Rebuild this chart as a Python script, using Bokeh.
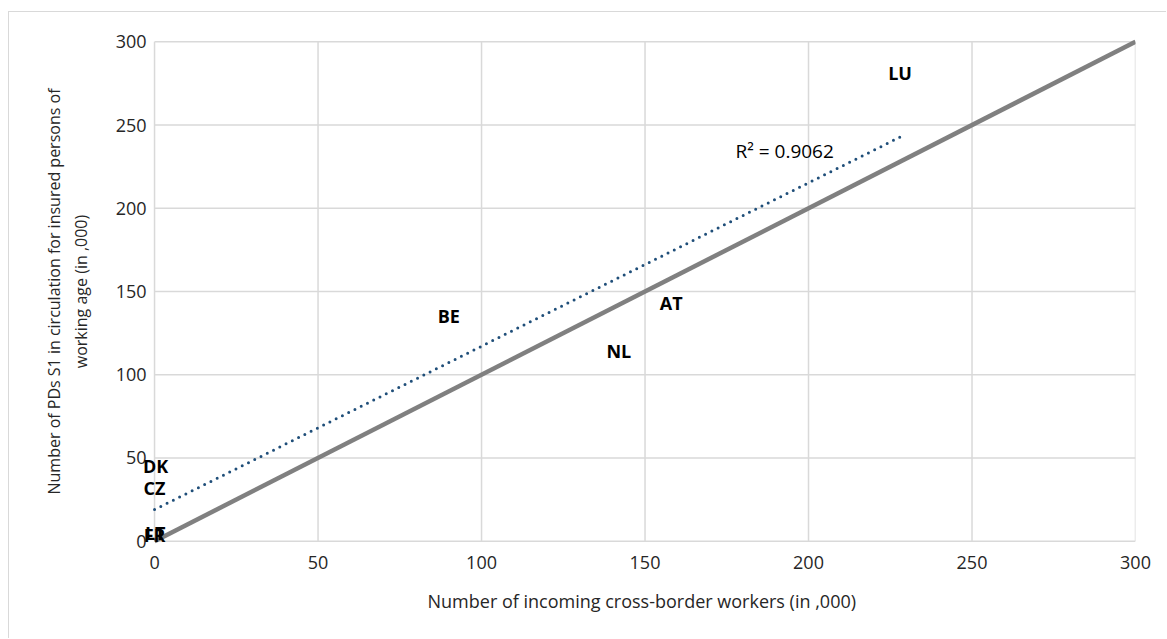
import numpy as np
from bokeh.plotting import figure
from bokeh.models import ColumnDataSource, FixedTicker, Label, Title
from bokeh.core.properties import value
from bokeh.embed import file_html
from bokeh.resources import INLINE

# Member states: incoming cross-border workers vs PDs S1 in circulation (thousands)
countries = ["LU", "AT", "NL", "BE", "DK", "CZ", "LT", "FR"]
workers = [228, 158, 142, 90, 0.3, 0, 0.2, 0]
pds_s1 = [281, 143, 114, 135, 45, 32, 5, 4]

r2_text = "R\u00b2 = 0.9062"
ticks = [0, 50, 100, 150, 200, 250, 300]
tick_labels = [str(t) for t in ticks]

FONT = "Open Sans"
TXT = "#262626"
GRID = "#d9d9d9"

# The frame reaches a little beyond the 0-300 square so that labels sitting
# on its edges are not cut off; the grid and y tick labels are drawn by hand.
X_PAD = 15
Y_PAD = 8
p = figure(width=1158, height=627,
           x_range=(-X_PAD, 300), y_range=(-Y_PAD, 300 + Y_PAD),
           output_backend="svg", toolbar_location=None,
           min_border_left=96, min_border_right=32,
           min_border_top=16, min_border_bottom=85)
p.margin = (11, 0, 0, 8)
p.styles = {"border-left": "1px solid #d9d9d9", "border-top": "1px solid #d9d9d9"}
p.outline_line_color = None
p.background_fill_color = "white"
p.border_fill_color = "white"
p.grid.visible = False

for ax in (p.xaxis, p.yaxis):
    ax.axis_line_color = None
    ax.major_tick_line_color = None
    ax.minor_tick_line_color = None
    ax.major_label_text_font = FONT
    ax.major_label_text_font_size = "18px"
    ax.major_label_text_color = TXT
    ax.axis_label_text_font = FONT
    ax.axis_label_text_font_style = "normal"
    ax.axis_label_text_color = TXT

p.xaxis.ticker = FixedTicker(ticks=ticks)
p.xaxis.major_label_standoff = -5

p.yaxis.ticker = FixedTicker(ticks=[])
p.yaxis.axis_label = "Number of PDs S1 in circulation for insured persons of\nworking age (in ,000)"
p.yaxis.axis_label_text_font_size = "16px"
p.yaxis.axis_label_standoff = 14

# X axis title, centred under the 0-300 data square
p.add_layout(Title(text="Number of incoming cross-border workers (in ,000)",
                   align="left", offset=322, standoff=31,
                   text_font=FONT, text_font_size="18px",
                   text_font_style="normal", text_color=TXT), "below")

# Grid lines over the data area only
n = len(ticks)
p.segment(x0=ticks, y0=[0] * n, x1=ticks, y1=[300] * n,
          line_color=GRID, line_width=1.5)
p.segment(x0=[0] * n, y0=ticks, x1=[300] * n, y1=ticks,
          line_color=GRID, line_width=1.5)

# Y tick labels next to x = 0
p.text(x=[0] * n, y=ticks, text=tick_labels, x_offset=-8,
       text_align="right", text_baseline="middle", text_font=value(FONT),
       text_font_size="18px", text_color=TXT)

# Reference diagonal y = x
p.line(x=[0, 300], y=[0, 300], line_color="#808080", line_width=4.5)

# Linear trendline over the observed range
xs = np.array(workers, dtype=float)
ys = np.array(pds_s1, dtype=float)
slope, intercept = np.polyfit(xs, ys, 1)
x_fit = np.array([xs.min(), xs.max()])
p.line(x=x_fit, y=intercept + slope * x_fit, line_color="#1f4e79",
       line_width=3, line_dash="0 7", line_cap="round")

# Country labels placed on the data points
src = ColumnDataSource(dict(x=workers, y=pds_s1, label=countries))
p.text(x="x", y="y", text="label", source=src, text_align="center",
       text_baseline="middle", text_font=value(FONT), text_font_style="bold",
       text_font_size="18px", text_color="black")

p.add_layout(Label(x=192.7, y=234.6, text=r2_text, text_align="center",
                   text_baseline="middle", text_font=FONT,
                   text_font_size="19px", text_color="black"))

open("out.html", "w").write(file_html(p, INLINE))
